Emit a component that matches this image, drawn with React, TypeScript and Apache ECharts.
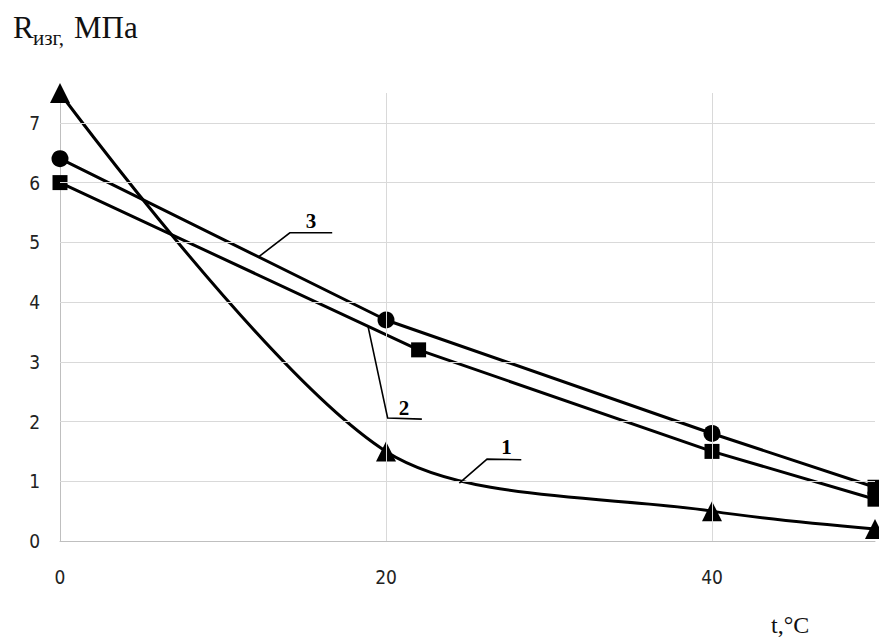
import React, { useEffect, useRef } from "react";
import * as echarts from "echarts";

// Curve 1 (triangles)
const temps1 = [0, 20, 40, 50];
const strength1 = [7.5, 1.5, 0.5, 0.2];
// Curve 2 (squares)
const temps2 = [0, 22, 40, 50];
const strength2 = [6.0, 3.2, 1.5, 0.7];
// Curve 3 (circles)
const temps3 = [0, 20, 40, 50];
const strength3 = [6.4, 3.7, 1.8, 0.9];

const yGridValues = [1, 2, 3, 4, 5, 6, 7];
const xGridValues = [20, 40];
const xTickLabels = [0, 20, 40];

// Leader annotations in data coordinates
const leaders = [
  { label: "3", path: [[12.2, 4.76], [14.1, 5.16], [16.7, 5.16]], at: [15.4, 5.36] },
  { label: "2", path: [[18.9, 3.59], [20.1, 2.06], [22.2, 2.04]], at: [21.1, 2.23] },
  { label: "1", path: [[24.5, 0.97], [26.2, 1.37], [28.3, 1.36]], at: [27.4, 1.57] },
];

const tickFont = "'Liberation Sans Narrow', 'DejaVu Sans Condensed', 'Liberation Sans', sans-serif";
const serif = "'Liberation Serif', 'Times New Roman', serif";

export default function App() {
  const ref = useRef<HTMLDivElement>(null);
  useEffect(() => {
    if (!ref.current) return;
    const chart = echarts.init(ref.current, undefined, { renderer: "svg" });
    const pair = (xs: number[], ys: number[]) => xs.map((x, i) => [x, ys[i]]);
    const lineStyle = { color: "#000", width: 3 };
    chart.setOption({
      animation: false,
      backgroundColor: "#fff",
      grid: { left: 60, right: 4, top: 93, bottom: 100, containLabel: false },
      xAxis: {
        type: "value",
        min: 0,
        max: 50,
        interval: 20,
        axisLine: { show: true, lineStyle: { color: "#bfbfbf", width: 1 } },
        axisTick: { show: false },
        splitLine: { show: false },
        axisLabel: {
          margin: 26,
          color: "#222",
          fontFamily: tickFont,
          fontSize: 19,
          formatter: (v: number) => (xTickLabels.includes(v) ? String(v) : ""),
        },
      },
      yAxis: {
        type: "value",
        min: 0,
        max: 7.5,
        interval: 1,
        axisLine: { show: true, lineStyle: { color: "#bfbfbf", width: 1 } },
        axisTick: { show: false },
        splitLine: { show: false },
        axisLabel: {
          margin: 20,
          color: "#222",
          fontFamily: tickFont,
          fontSize: 19,
          formatter: (v: number) => (Number.isInteger(v) ? String(v) : ""),
        },
      },
      series: [
        {
          type: "line",
          data: [],
          z: 1,
          silent: true,
          markLine: {
            silent: true,
            symbol: ["none", "none"],
            label: { show: false },
            lineStyle: { color: "#d9d9d9", width: 1, type: "solid" },
            data: [
              ...yGridValues.map((v) => ({ yAxis: v })),
              ...xGridValues.map((v) => ({ xAxis: v })),
            ],
          },
        },
        {
          name: "1",
          type: "line",
          z: 3,
          smooth: 0.3,
          data: pair(temps1, strength1),
          symbol: "triangle",
          symbolSize: 20,
          itemStyle: { color: "#000" },
          lineStyle,
        },
        {
          name: "2",
          type: "line",
          z: 3,
          data: pair(temps2, strength2),
          symbol: "rect",
          symbolSize: 15,
          itemStyle: { color: "#000" },
          lineStyle,
        },
        {
          name: "3",
          type: "line",
          z: 3,
          data: pair(temps3, strength3).map((p, i, arr) =>
            i === arr.length - 1 ? { value: p, symbol: "rect", symbolSize: 15 } : p
          ),
          symbol: "circle",
          symbolSize: 17,
          itemStyle: { color: "#000" },
          lineStyle,
        },
      ],
    });

    const px = (p: number[]) => chart.convertToPixel({ gridIndex: 0 }, p) as number[];
    const graphics: any[] = [
      { type: "text", left: 13, top: 12, style: { text: "R", font: `31px ${serif}`, fill: "#111" } },
      { type: "text", left: 33, top: 27, style: { text: "изг,", font: `21px ${serif}`, fill: "#111" } },
      { type: "text", left: 74, top: 12, style: { text: "МПа", font: `31px ${serif}`, fill: "#111" } },
      { type: "text", left: 771, top: 613, style: { text: "t,°C", font: `24px ${serif}`, fill: "#111" } },
    ];
    leaders.forEach((l) => {
      graphics.push({
        type: "polyline",
        z: 10,
        shape: { points: l.path.map(px) },
        style: { stroke: "#000", lineWidth: 1.6, fill: "none" },
      });
      const c = px(l.at);
      graphics.push({
        type: "text",
        z: 10,
        x: c[0],
        y: c[1],
        style: {
          text: l.label,
          font: `bold 21px ${serif}`,
          fill: "#000",
          align: "center",
          verticalAlign: "middle",
        },
      });
    });
    chart.setOption({ graphic: graphics });
    return () => chart.dispose();
  }, []);
  return (
    <div
      ref={ref}
      style={{ position: "absolute", left: 0, top: 0, width: 879, height: 641 }}
    />
  );
}
